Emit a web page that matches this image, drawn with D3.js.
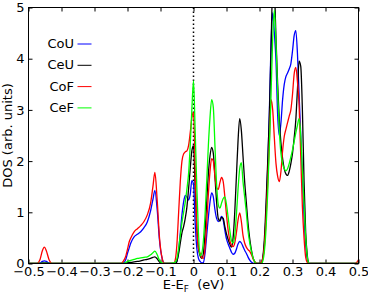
<!DOCTYPE html>
<html>
<head>
<meta charset="utf-8">
<script src="https://cdn.jsdelivr.net/npm/d3@7"></script>
<style>
  body { margin: 0; background: #fff; }
  text { font-family: "DejaVu Sans", sans-serif; }
</style>
</head>
<body>
<svg id="chart" width="368" height="300"></svg>
<script>
// energy grid (eV, relative to E_F)
const energies = [
  -0.5, -0.475, -0.465, -0.458, -0.452, -0.446, -0.438, -0.428,
  -0.22, -0.212, -0.205, -0.2, -0.195, -0.19, -0.18, -0.17, -0.16, -0.15, -0.14, -0.13, -0.123, -0.117, -0.11, -0.103, -0.095, -0.088,
  -0.06, -0.055, -0.05, -0.045, -0.04, -0.035, -0.03, -0.025, -0.02, -0.015, -0.01, -0.005, 0,
  0.005, 0.01, 0.015, 0.02, 0.025, 0.03, 0.035, 0.04, 0.045, 0.05, 0.055, 0.06, 0.065, 0.07, 0.075, 0.08, 0.085, 0.09, 0.095, 0.1,
  0.105, 0.11, 0.115, 0.12, 0.125, 0.13, 0.135, 0.14, 0.145, 0.15, 0.155, 0.16, 0.165, 0.17, 0.175, 0.18, 0.185, 0.19, 0.195, 0.2,
  0.205, 0.21, 0.215, 0.22, 0.225, 0.23, 0.235, 0.24, 0.245, 0.25, 0.255, 0.26, 0.265, 0.27, 0.275, 0.28, 0.285, 0.29, 0.295, 0.3,
  0.305, 0.31, 0.315, 0.32, 0.325, 0.33, 0.335, 0.34, 0.345, 0.35,
  0.36, 0.49, 0.5
];

const couValues = [
  0, 0, 0.01, 0.04, 0.05, 0.04, 0.01, 0,
  0, 0.01, 0.08, 0.2, 0.3, 0.4, 0.52, 0.57, 0.62, 0.7, 0.81, 1.03, 1.25, 1.43, 1.05, 0.45, 0.1, 0,
  0, 0, 0.05, 0.25, 0.6, 0.95, 1.2, 1.33, 1.3, 1.24, 1.35, 1.62, 1.55,
  0.8, 0.3, 0.1, 0.04, 0.01, 0.02, 0.2, 0.55, 0.9, 1.2, 1.38, 1.3, 1.05, 0.88, 0.82, 0.85, 0.92, 0.85, 0.65, 0.48,
  0.38, 0.3, 0.22, 0.18, 0.2, 0.28, 0.38, 0.43, 0.4, 0.33, 0.26, 0.2, 0.13, 0.07, 0.03, 0.01, 0, 0, 0, 0,
  0.01, 0.1, 0.4, 1.0, 1.9, 3.0, 4.3, 4.9, 4.5, 3.95, 2.9, 2.5, 2.75, 3.2, 3.5, 3.65, 3.72, 3.8, 3.9, 4.15,
  4.45, 4.55, 4.1, 3.3, 2.5, 1.7, 0.9, 0.35, 0.08, 0,
  0, 0, 0
];

const ceuValues = [
  0, 0, 0, 0.01, 0.01, 0.01, 0, 0,
  0, 0, 0.01, 0.01, 0.02, 0.02, 0.03, 0.04, 0.05, 0.07, 0.08, 0.1, 0.12, 0.13, 0.09, 0.03, 0, 0,
  0, 0, 0.05, 0.2, 0.4, 0.6, 0.72, 0.88, 1.1, 1.45, 1.85, 2.2, 2.3,
  1.5, 0.7, 0.3, 0.15, 0.1, 0.2, 0.6, 1.2, 1.75, 2.1, 2.27, 2.15, 1.7, 1.2, 0.88, 0.83, 0.9, 0.88, 0.72, 0.58,
  0.47, 0.38, 0.32, 0.5, 1.0, 1.7, 2.4, 2.83, 2.6, 2.1, 1.6, 1.2, 0.8, 0.5, 0.28, 0.12, 0.04, 0, 0, 0,
  0.01, 0.12, 0.5, 1.2, 2.0, 2.9, 4.2, 5.4, 5.3, 4.4, 3.5, 2.8, 2.35, 2.05, 1.85, 1.75, 1.72, 1.8, 1.95, 2.15,
  2.45, 2.8, 3.4, 3.95, 3.85, 3.0, 1.6, 0.6, 0.15, 0,
  0, 0, 0
];

const cofValues = [
  0, 0, 0.08, 0.25, 0.32, 0.25, 0.08, 0,
  0, 0.05, 0.15, 0.28, 0.42, 0.5, 0.62, 0.68, 0.74, 0.82, 0.95, 1.18, 1.5, 1.78, 1.23, 0.5, 0.1, 0,
  0, 0.08, 0.4, 1.0, 1.6, 2.0, 2.14, 2.18, 2.2, 2.3, 2.55, 2.85, 2.95,
  1.9, 0.7, 0.3, 0.2, 0.12, 0.1, 0.3, 0.8, 1.35, 1.8, 2.05, 2.0, 1.7, 1.48, 1.45, 1.58, 1.68, 1.6, 1.3, 0.95,
  0.65, 0.45, 0.36, 0.33, 0.4, 0.6, 0.85, 0.99, 0.82, 0.55, 0.4, 0.32, 0.27, 0.24, 0.18, 0.1, 0.04, 0.01, 0, 0,
  0.02, 0.1, 0.35, 0.9, 1.6, 2.4, 3.2, 3.0, 2.45, 1.95, 1.7, 1.6, 1.8, 2.2, 2.48, 2.62, 2.75, 2.88, 3.0, 3.3,
  3.7, 3.83, 3.55, 3.1, 2.1, 1.1, 0.5, 0.12, 0.02, 0,
  0, 0, 0.07
];

const cefValues = [
  0, 0, 0, 0, 0, 0, 0, 0,
  0, 0, 0.02, 0.04, 0.05, 0.06, 0.08, 0.1, 0.11, 0.12, 0.13, 0.17, 0.21, 0.24, 0.17, 0.06, 0.01, 0,
  0.01, 0.03, 0.1, 0.3, 0.55, 0.8, 1.0, 1.2, 1.45, 1.75, 2.3, 3.0, 3.57,
  2.6, 1.5, 0.6, 0.15, 0.2, 0.45, 0.95, 1.6, 2.3, 2.85, 3.2, 3.05, 2.3, 1.55, 1.15, 1.08, 1.18, 1.27, 1.3, 1.15,
  0.9, 0.65, 0.45, 0.4, 0.55, 0.95, 1.45, 1.85, 1.97, 1.6, 1.3, 1.0, 0.65, 0.42, 0.25, 0.12, 0.04, 0, 0, 0,
  0, 0.05, 0.25, 0.7, 1.4, 2.3, 3.3, 4.4, 4.95, 4.3, 3.35, 2.6, 2.15, 1.95, 1.85, 1.81, 1.85, 1.95, 2.08, 2.22,
  2.38, 2.55, 2.7, 2.83, 2.5, 1.8, 1.15, 0.5, 0.12, 0,
  0, 0, 0
];

const seriesNames = ["CoU", "CeU", "CoF", "CeF"];
const seriesColors = ["#0000ff", "#000000", "#ff0000", "#00ff00"];
const xTicks = [-0.5, -0.4, -0.3, -0.2, -0.1, 0, 0.1, 0.2, 0.3, 0.4, 0.5];
const yTicks = [0, 1, 2, 3, 4, 5];

const series = [couValues, ceuValues, cofValues, cefValues].map((vals, i) => ({
  name: seriesNames[i],
  color: seriesColors[i],
  points: energies.map((e, j) => ({ e: e, v: vals[j] }))
}));

const svg = d3.select("#chart");

const plotLeft = 28.5, plotRight = 358.5, plotTop = 7.5, plotBottom = 263.5;

const x = d3.scaleLinear().domain([-0.5, 0.5]).range([plotLeft, plotRight]);
const y = d3.scaleLinear().domain([0, 5]).range([plotBottom, plotTop]);

svg.append("defs").append("clipPath")
  .attr("id", "plotClip")
  .append("rect")
  .attr("x", plotLeft).attr("y", plotTop)
  .attr("width", plotRight - plotLeft).attr("height", plotBottom - plotTop);

const fmtX = d => d === 0 ? "0" : d3.format(".1f")(d);

// axes with inward ticks on all four sides
const xBottom = svg.append("g")
  .attr("transform", `translate(0,${plotBottom})`)
  .call(d3.axisBottom(x).tickValues(xTicks).tickSizeInner(-4).tickSizeOuter(0).tickPadding(3).tickFormat(fmtX));
const xTop = svg.append("g")
  .attr("transform", `translate(0,${plotTop})`)
  .call(d3.axisTop(x).tickValues(xTicks).tickSizeInner(-4).tickSizeOuter(0).tickFormat(""));
const yLeft = svg.append("g")
  .attr("transform", `translate(${plotLeft},0)`)
  .call(d3.axisLeft(y).tickValues(yTicks).tickSizeInner(-4).tickSizeOuter(0).tickPadding(4).tickFormat(d3.format("d")));
const yRight = svg.append("g")
  .attr("transform", `translate(${plotRight},0)`)
  .call(d3.axisRight(y).tickValues(yTicks).tickSizeInner(-4).tickSizeOuter(0).tickFormat(""));

[xBottom, xTop, yLeft, yRight].forEach(g => {
  g.select(".domain").remove();
  g.selectAll(".tick line").attr("stroke", "#000").attr("stroke-width", 1);
  g.selectAll(".tick text").attr("fill", "#000").style("font-size", "13px");
});

// Fermi level
svg.append("line")
  .attr("x1", x(0)).attr("x2", x(0))
  .attr("y1", plotTop).attr("y2", plotBottom)
  .attr("stroke", "#000")
  .attr("stroke-width", 1.5)
  .attr("stroke-dasharray", "1.5,2.5");

const line = d3.line()
  .x(d => x(d.e))
  .y(d => y(d.v))
  .curve(d3.curveMonotoneX);

svg.append("g")
  .attr("clip-path", "url(#plotClip)")
  .selectAll("path")
  .data(series)
  .join("path")
  .attr("d", d => line(d.points))
  .attr("fill", "none")
  .attr("stroke", d => d.color)
  .attr("stroke-width", 1.3)
  .attr("stroke-linejoin", "round");

// frame
svg.append("rect")
  .attr("x", plotLeft).attr("y", plotTop)
  .attr("width", plotRight - plotLeft).attr("height", plotBottom - plotTop)
  .attr("fill", "none")
  .attr("stroke", "#000")
  .attr("stroke-width", 1);

// legend
const legend = svg.append("g");
series.forEach((s, i) => {
  const ly = 43.5 + i * 21.3;
  legend.append("text")
    .attr("x", 74).attr("y", ly)
    .attr("dy", "0.35em")
    .attr("text-anchor", "end")
    .style("font-size", "13px")
    .text(s.name);
  legend.append("line")
    .attr("x1", 77.5).attr("x2", 91.5)
    .attr("y1", ly + 0.5).attr("y2", ly + 0.5)
    .attr("stroke", s.color)
    .attr("stroke-width", 1);
});

// axis labels
const xLabel = svg.append("text")
  .attr("x", x(0)).attr("y", 289)
  .attr("text-anchor", "middle")
  .style("font-size", "13px");
xLabel.append("tspan").text("E-E");
xLabel.append("tspan").attr("dy", 3).style("font-size", "9px").text("F");
xLabel.append("tspan").attr("dy", -3).text("\u00a0\u00a0(eV)");

svg.append("text")
  .attr("transform", `translate(12,${(plotTop + plotBottom) / 2}) rotate(-90)`)
  .attr("text-anchor", "middle")
  .style("font-size", "13px")
  .text("DOS (arb. units)");
</script>
</body>
</html>
